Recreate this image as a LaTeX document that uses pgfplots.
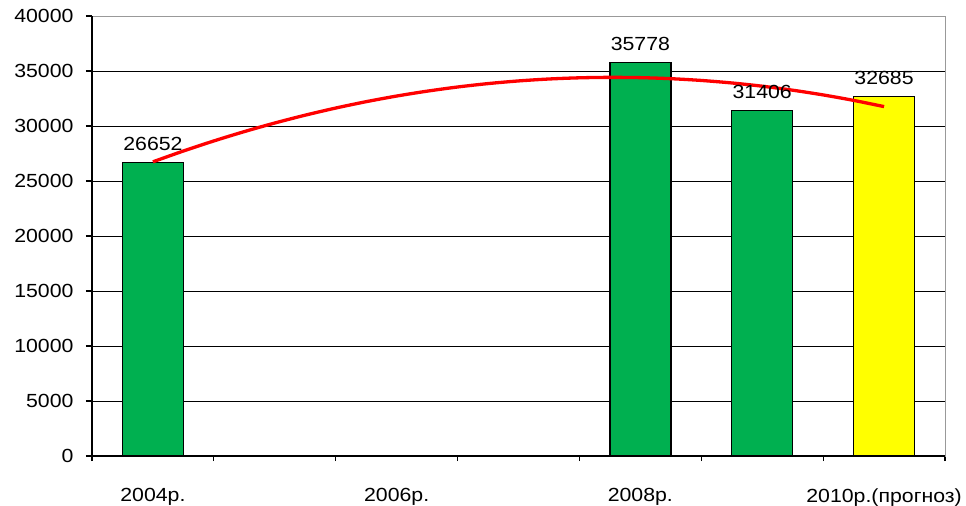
\documentclass[border=0pt]{standalone}
\usepackage{pgfplots}
\pgfplotsset{compat=1.18}
\usepackage{fontspec}
\setmainfont{Liberation Sans}[FakeStretch=1.12]
\definecolor{bargreen}{HTML}{00B050}
\definecolor{baryellow}{HTML}{FFFF00}
\begin{document}
\fontsize{19bp}{22bp}\selectfont
\begin{tikzpicture}
\useasboundingbox (0,0) rectangle (966bp,506bp);
\begin{axis}[
  at={(92bp,50bp)}, anchor=south west,
  scale only axis, width=853bp, height=440bp,
  xmin=-0.5, xmax=6.5, ymin=0, ymax=40000,
  ytick={0,5000,...,40000},
  /pgf/number format/assume math mode=true,
  /pgf/number format/set thousands separator={},
  scaled y ticks=false,
  ymajorgrids, grid style={black, line width=1bp},
  xtick={0,2,4,6},
  xticklabels={2004р.,2006р.,2008р.,2010р.(прогноз)},
  minor xtick={-0.5,0.5,...,6.5},
  major x tick style={draw=none},
  minor tick length=5bp,
  major tick length=6bp,
  tick align=outside,
  tick style={black, line width=1.2bp},
  xtick pos=bottom, ytick pos=left,
  axis line style={gray!80, line width=1bp},
  ticklabel style={font=\fontsize{19bp}{22bp}\selectfont},
  yticklabel style={xshift=-6bp},
  xticklabel style={yshift=-20bp},
  clip=false,
  node near coord style={font=\fontsize{19bp}{22bp}\selectfont, yshift=5bp, /pgf/number format/fixed, /pgf/number format/set thousands separator={}},
]
\addplot[ybar, bar width=61bp, bar shift=0pt, fill=bargreen, draw=black, line width=1.3bp, nodes near coords]
  coordinates {(0,26652) (4,35778) (5,31406)};
\addplot[ybar, bar width=61bp, bar shift=0pt, fill=baryellow, draw=black, line width=1.3bp, nodes near coords]
  coordinates {(6,32685)};
\addplot[red, line width=3.3bp, smooth, no marks]
  coordinates {
  (0,26744) (0.25,27727) (0.5,28642) (0.75,29491) (1,30272)
  (1.25,30985) (1.5,31632) (1.75,32211) (2,32723) (2.25,33167)
  (2.5,33545) (2.75,33855) (3,34097) (3.25,34273) (3.5,34381)
  (3.75,34422) (4,34396) (4.25,34302) (4.5,34141) (4.75,33913)
  (5,33618) (5.25,33255) (5.5,32825) (5.75,32328) (6,31763)};
\draw[black, line width=1.5bp] (rel axis cs:0,1) -- (rel axis cs:0,0) -- (rel axis cs:1,0);
\end{axis}
\end{tikzpicture}
\end{document}
